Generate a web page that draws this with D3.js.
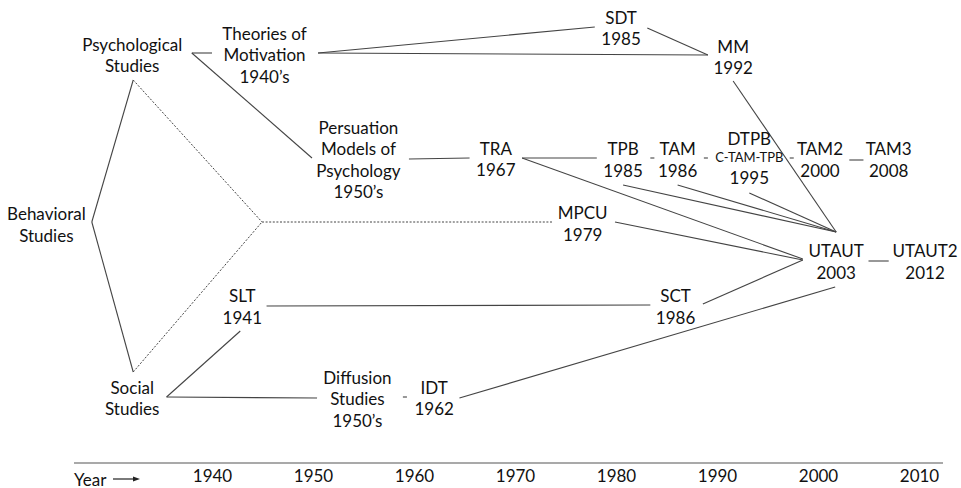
<!DOCTYPE html>
<html><head><meta charset="utf-8">
<script src="https://cdn.jsdelivr.net/npm/d3@7"></script>
<style>
html,body{margin:0;padding:0;background:#fff;}
text{font-family:Lato,"Open Sans",sans-serif;fill:#111;}
</style></head>
<body><svg id="chart" width="961" height="488"></svg>
<script>
// ---- data ----
const axisYears = [1940, 1950, 1960, 1970, 1980, 1990, 2000, 2010];
const axisLabel = "Year";
// node labels (text lines), x in year-axis units, y in layout rows (px units)
const nodeNames = ["Behavioral Studies","Psychological Studies","Theories of Motivation","SDT","MM",
  "Persuation Models","TRA","TPB","TAM","DTPB","TAM2","TAM3","MPCU","UTAUT","UTAUT2","SLT","SCT",
  "Social Studies","Diffusion Studies","IDT"];
const nodeLines = [
  ["Behavioral","Studies"],["Psychological","Studies"],["Theories of","Motivation","1940\u2019s"],
  ["SDT","1985"],["MM","1992"],["Persuation","Models of","Psychology","1950\u2019s"],
  ["TRA","1967"],["TPB","1985"],["TAM","1986"],["DTPB","C-TAM-TPB","1995"],["TAM2","2000"],
  ["TAM3","2008"],["MPCU","1979"],["UTAUT","2003"],["UTAUT2","2012"],["SLT","1941"],["SCT","1986"],
  ["Social","Studies"],["Diffusion","Studies","1950\u2019s"],["IDT","1962"]];
const nodeX = [1923.6,1932.1,1945.2,1980.5,1991.6,1954.5,1968.1,1980.7,1986.1,1993.2,2000.2,2007.0,
  1976.7,2001.8,2010.6,1943.0,1985.9,1932.1,1954.4,1962.0];
const nodeY = [224,54.5,54,27.5,56.5,159,158.5,159,159,159,159,159,223,261,261,306,306,397.5,398,397.5];
// connections: [x1,y1,x2,y2] (x in year units), dotted flag
const edgeX1 = [1928.1,1928.1,1932.2,1932.2,1944.95,1938.0,1938.0,1950.5,1950.5,1983.1,1991.6,1959.5,
  1970.7,1983.4,1988.7,1997.2,2003.1,1970.7,1980.7,1986.1,1993.2,1979.9,1988.6,2005.0,1945.4,1935.5,
  1935.5,1958.9,1964.5];
const edgeY1 = [222,222,80,372,222,53,53,53,53,28,81,159,158,158,158,158,160,158,185,185,193,222,304,
  261,306,397,397,397,398];
const edgeX2 = [1932.2,1932.2,1944.95,1944.95,1973.8,1940.0,1949.9,1977.9,1989.1,1989.1,2001.8,1965.5,
  1978.1,1983.8,1989.1,1997.6,2004.5,1998.5,2001.8,2001.8,2001.8,1998.5,1998.5,2007.0,1983.4,1942.8,
  1950.4,1959.3,2001.7];
const edgeY2 = [80,372,222,222,222,53,158,27,55,55,232,158,158,158,158,158,160,259,232,232,232,260,260,
  261,305,331,398,397,287];
const edgeDotted = [0,0,1,1,1,0,0,0,0,0,0,0,0,0,0,0,0,0,0,0,0,0,0,0,0,0,0,0,0];

// ---- drawing ----
const svg = d3.select("#chart");
const x = d3.scaleLinear().domain([1940, 2010]).range([212, 919]);
const y = d3.scaleLinear().domain([0, 488]).range([0, 488]);

const edges = edgeX1.map((d,i)=>({x1:d,y1:edgeY1[i],x2:edgeX2[i],y2:edgeY2[i],dot:edgeDotted[i]}));
svg.append("g").selectAll("line").data(edges).join("line")
  .attr("x1",d=>x(d.x1)).attr("y1",d=>y(d.y1))
  .attr("x2",d=>x(d.x2)).attr("y2",d=>y(d.y2))
  .attr("stroke",d=>d.dot?"#444":"#444")
  .attr("stroke-width",d=>d.dot?1:1.1)
  .attr("stroke-dasharray",d=>d.dot?"2,1.6":null);

const nodes = nodeNames.map((n,i)=>({name:n,lines:nodeLines[i],x:nodeX[i],y:nodeY[i]}));
const lh = 21.5;
const ng = svg.append("g").selectAll("text").data(nodes).join("text")
  .attr("text-anchor","middle").attr("font-size",17)
  .attr("x",d=>x(d.x)).attr("y",d=>y(d.y) - (d.lines.length-1)*lh/2)
  .attr("dominant-baseline","central");
ng.each(function(d){
  const t = d3.select(this);
  d.lines.forEach((l,j)=>{
    const small = l==="C-TAM-TPB";
    t.append("tspan").attr("x",x(d.x)).attr("dy", j===0?0:(small||d.lines[j-1]==="C-TAM-TPB"?19.5:lh))
      .attr("font-size", small?13:17).text(l);
  });
});

// axis
const axisY = 463;
svg.append("line").attr("x1",74).attr("x2",943).attr("y1",axisY).attr("y2",axisY)
  .attr("stroke","#555").attr("stroke-width",1.2);
const ax = svg.append("g").attr("transform",`translate(0,${axisY+5})`)
  .call(d3.axisBottom(x).tickValues(axisYears).tickFormat(d3.format("d")).tickSize(0).tickPadding(2));
ax.select(".domain").remove();
ax.selectAll("text").attr("font-size",17).attr("font-family","Lato,'Open Sans',sans-serif").attr("fill","#111");
svg.append("text").attr("x",74).attr("y",479).attr("dominant-baseline","central")
  .attr("font-size",17).text(axisLabel);
svg.append("line").attr("x1",113).attr("x2",134).attr("y1",479).attr("y2",479)
  .attr("stroke","#222").attr("stroke-width",1.2);
svg.append("path").attr("d","M133,476.5L140,479L133,481.5Z").attr("fill","#222");
</script></body></html>
